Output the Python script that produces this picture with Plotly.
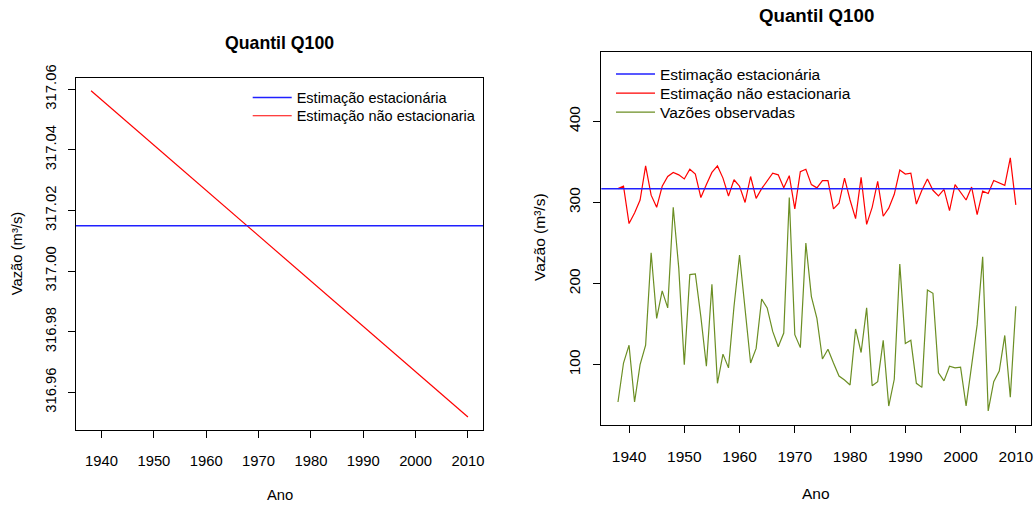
import plotly.graph_objects as go

# ---------------- data ----------------
years = list(range(1938, 2011))

q100_stationary = 317.015

# Left panel: non-stationary Q100 estimate
q100_nonstat_left = [
    317.0595, 317.0580, 317.0565, 317.0550, 317.0535, 317.0520, 317.0505, 317.0490,
    317.0475, 317.0460, 317.0446, 317.0431, 317.0416, 317.0401, 317.0386, 317.0371,
    317.0356, 317.0341, 317.0326, 317.0311, 317.0296, 317.0281, 317.0266, 317.0251,
    317.0236, 317.0221, 317.0206, 317.0192, 317.0177, 317.0162, 317.0147, 317.0132,
    317.0117, 317.0102, 317.0087, 317.0072, 317.0057, 317.0042, 317.0027, 317.0012,
    316.9997, 316.9982, 316.9967, 316.9952, 316.9937, 316.9923, 316.9908, 316.9893,
    316.9878, 316.9863, 316.9848, 316.9833, 316.9818, 316.9803, 316.9788, 316.9773,
    316.9758, 316.9743, 316.9728, 316.9713, 316.9699, 316.9684, 316.9669, 316.9654,
    316.9639, 316.9624, 316.9609, 316.9594, 316.9579, 316.9564, 316.9549, 316.9534,
    316.9519,
]

# Right panel: non-stationary Q100 estimate per year
q100_nonstat_right = [
    317, 320, 274, 287, 303, 345, 309, 294, 320, 332,
    337, 334, 329, 341, 335, 306, 322, 337, 345, 330,
    308, 328, 320, 300, 332, 305, 317, 326, 336, 334,
    318, 333, 292, 338, 341, 322, 318, 327, 327, 292,
    299, 330, 303, 280, 331, 273, 294, 326, 283, 293,
    310, 340, 335, 336, 298, 315, 329, 315, 308, 316,
    290, 322, 313, 303, 319, 285, 314, 311, 327, 324,
    321, 355, 297,
]

# Right panel: observed flows
observed_flow = [
    54, 102, 124, 54, 100, 124, 238, 157, 191, 170,
    294, 219, 100, 211, 212, 159, 98, 199, 77, 113,
    96, 172, 235, 167, 102, 120, 181, 170, 141, 122,
    139, 306, 137, 121, 250, 184, 157, 107, 119, 102,
    86, 81, 75, 144, 115, 170, 74, 79, 130, 49,
    82, 224, 126, 130, 77, 72, 192, 188, 90, 80,
    98, 96, 97, 49, 98, 149, 233, 43, 79, 92,
    136, 60, 172,
]

x_ticks = [1940, 1950, 1960, 1970, 1980, 1990, 2000, 2010]
left_y_ticks = [316.96, 316.98, 317.00, 317.02, 317.04, 317.06]
right_y_ticks = [100, 200, 300, 400]

title_text = "Quantil Q100"
x_title = "Ano"
y_title = "Vazão (m³/s)"
name_stat = "Estimação estacionária"
name_nonstat = "Estimação não estacionaria"
name_obs = "Vazões observadas"

FONT = "Liberation Sans, Arial, sans-serif"
RED = "#FF0000"
BLUE = "#2020FF"
GREEN = "#6B8E23"

W, H = 1036, 505

fig = go.Figure()

# ---------------- left panel ----------------
fig.add_shape(type="line", xref="x domain", yref="y", x0=0, x1=1,
              y0=q100_stationary, y1=q100_stationary,
              line=dict(color=BLUE, width=1.5), showlegend=True,
              name=name_stat, legend="legend")
fig.add_trace(go.Scatter(
    x=years, y=q100_nonstat_left, mode="lines", name=name_nonstat,
    line=dict(color=RED, width=1.2), xaxis="x", yaxis="y",
    legend="legend2"))

# ---------------- right panel ----------------
fig.add_shape(type="line", xref="x2 domain", yref="y2", x0=0, x1=1,
              y0=q100_stationary, y1=q100_stationary,
              line=dict(color=BLUE, width=1.5), showlegend=True,
              name=name_stat, legend="legend3")
fig.add_trace(go.Scatter(
    x=years, y=q100_nonstat_right, mode="lines", name=name_nonstat,
    line=dict(color=RED, width=1.2), xaxis="x2", yaxis="y2",
    legend="legend4"))
fig.add_trace(go.Scatter(
    x=years, y=observed_flow, mode="lines", name=name_obs,
    line=dict(color=GREEN, width=1.2), xaxis="x2", yaxis="y2",
    legend="legend5"))


def px_x(p):
    return p / W


def px_y(p):
    return 1 - p / H


axis_common = dict(
    showgrid=False, zeroline=False, showline=True, mirror=True,
    linecolor="black", linewidth=1, ticks="outside", ticklen=7,
    tickcolor="black", tickwidth=1, automargin=False,
)


def legend_at(x_px, top_px, size):
    return dict(x=px_x(x_px), y=px_y(top_px), xanchor="left", yanchor="top",
                bgcolor="rgba(0,0,0,0)", borderwidth=0, itemwidth=39,
                font=dict(size=size, family=FONT, color="black"))


fig.update_layout(
    width=W, height=H,
    margin=dict(l=0, r=0, t=0, b=0),
    paper_bgcolor="white", plot_bgcolor="white",
    font=dict(family=FONT, color="black", size=14.5),
    showlegend=True,
    xaxis=dict(domain=[px_x(76), px_x(483)], range=[1935.12, 2012.88],
               tickvals=x_ticks, tickfont=dict(size=14.8),
               ticklabelstandoff=10, anchor="y", **axis_common),
    yaxis=dict(domain=[px_y(430), px_y(77.7)], range=[316.9476, 317.0638],
               tickvals=left_y_ticks, tickformat=".2f", tickangle=-90,
               tickfont=dict(size=14.8), ticklabelstandoff=6, anchor="x",
               **axis_common),
    xaxis2=dict(domain=[px_x(601.3), px_x(1031.3)], range=[1934.98, 2012.8],
                tickvals=x_ticks, tickfont=dict(size=15.5),
                ticklabelstandoff=10, anchor="y2", **axis_common),
    yaxis2=dict(domain=[px_y(425), px_y(52)], range=[25.6, 485.5],
                tickvals=right_y_ticks, tickangle=-90,
                tickfont=dict(size=15.5), ticklabelstandoff=7, anchor="x2",
                **axis_common),
    legend=legend_at(247.7, 81.5, 14.5),
    legend2=legend_at(247.7, 99.8, 14.5),
    legend3=legend_at(611, 57.3, 15.5),
    legend4=legend_at(611, 76.5, 15.5),
    legend5=legend_at(611, 95.5, 15.5),
)

annotations = [
    dict(text="<b>%s</b>" % title_text, x=px_x(279.7), y=px_y(43.3),
         font=dict(size=17.7)),
    dict(text="<b>%s</b>" % title_text, x=px_x(816.7), y=px_y(15.7),
         font=dict(size=18.7)),
    dict(text=x_title, x=px_x(279.5), y=px_y(495), font=dict(size=14.8)),
    dict(text=x_title, x=px_x(816.3), y=px_y(493.3), font=dict(size=15.5)),
    dict(text=y_title, x=px_x(17.3), y=px_y(253), textangle=-90,
         font=dict(size=14.8)),
    dict(text=y_title, x=px_x(539), y=px_y(237), textangle=-90,
         font=dict(size=15.5)),
]
for a in annotations:
    a.update(xref="paper", yref="paper", xanchor="center", yanchor="middle",
             showarrow=False)
    a["font"].update(family=FONT, color="black")
    fig.add_annotation(**a)

fig.write_html("out.html")
